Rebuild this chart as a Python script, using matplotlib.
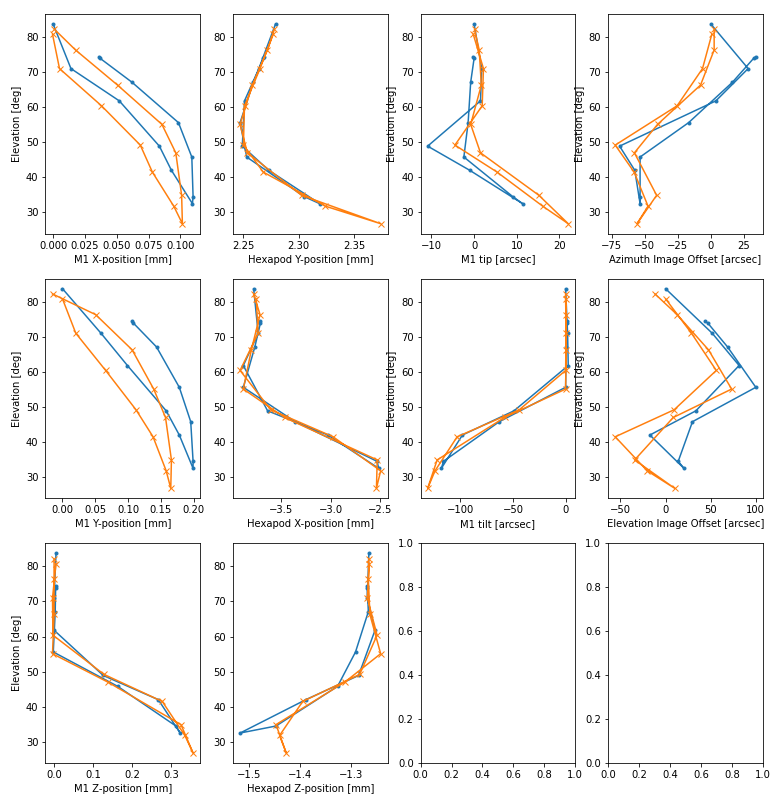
#!/usr/bin/env python3
"""
Elevation scan: M1 / hexapod positions and image offsets vs. elevation.
Two sweeps (blue dots, orange crosses) drawn on a 3x4 grid.
"""

import matplotlib
matplotlib.use("Agg")
import matplotlib.pyplot as plt

# Elevation of each sample [deg], in the order the sweeps were taken
elev_a = [74.4, 73.9, 67.1, 55.6, 45.8, 34.5, 32.5, 42.0, 48.9, 61.8, 71.0, 83.7]
elev_b = [82.2, 76.3, 66.3, 55.1, 47.0, 34.9, 26.8, 31.8, 41.5, 49.2, 60.4, 71.0, 80.8]

# Sweep A (blue)
m1x_a = [0.036, 0.037, 0.062, 0.0985, 0.109, 0.110, 0.1095, 0.093, 0.0835, 0.052, 0.014, 0.000]
hexy_a = [2.2687, 2.268, 2.259, 2.247, 2.253, 2.305, 2.319, 2.273, 2.249, 2.251, 2.264, 2.279]
tip_a = [-0.3, 0.0, -0.8, -1.4, -2.4, 9.1, 11.4, -1.0, -10.9, 1.5, 1.8, 0.0]
az_a = [34.0, 32.3, 16.3, -16.8, -53.5, -53.5, -53.5, -57.5, -69.0, 3.8, 28.2, 0.0]
m1y_a = [0.1063, 0.108, 0.1433, 0.178, 0.1954, 0.199, 0.199, 0.178, 0.158, 0.099, 0.0587, 0.0]
hexx_a = [-3.713, -3.713, -3.77, -3.887, -3.36, -2.526, -2.51, -3.026, -3.64, -3.887, -3.736, -3.782]
tilt_a = [1.2, 1.2, 0.6, 0.0, -63.0, -116.0, -118.0, -98.0, -49.0, 2.5, 1.9, 0.0]
elo_a = [43.8, 46.8, 68.7, 100.0, 29.8, 14.0, 20.4, -17.4, 33.6, 81.5, 51.7, 0.0]
m1z_a = [0.004, 0.004, 0.003, -0.002, 0.163, 0.312, 0.323, 0.267, 0.126, 0.0, 0.0, 0.005]
hexz_a = [-1.2695, -1.269, -1.267, -1.292, -1.327, -1.447, -1.517, -1.389, -1.286, -1.254, -1.269, -1.266]

# Sweep B (orange)
m1x_b = [0.001, 0.0176, 0.0506, 0.0855, 0.0964, 0.101, 0.1016, 0.0948, 0.078, 0.0685, 0.038, 0.005, -0.0005]
hexy_b = [2.278, 2.2717, 2.258, 2.247, 2.2536, 2.3025, 2.374, 2.324, 2.268, 2.250, 2.251, 2.265, 2.277]
tip_b = [0.1, 1.2, 1.7, -0.8, 1.5, 15.2, 22.1, 16.1, 5.4, -4.5, 1.9, 2.2, -0.2]
az_b = [2.5, 2.5, -7.8, -40.3, -57.8, -41.0, -55.8, -47.5, -58.0, -72.3, -25.5, -6.3, 0.75]
m1y_b = [-0.0152, 0.0506, 0.106, 0.139, 0.157, 0.166, 0.165, 0.158, 0.138, 0.112, 0.0658, 0.0203, 0.0]
hexx_b = [-3.782, -3.717, -3.805, -3.887, -3.468, -2.525, -2.533, -2.49, -2.974, -3.608, -3.92, -3.736, -3.756]
tilt_b = [0.0, 0.5, 0.5, 0.0, -58.0, -122.0, -131.0, -124.0, -103.0, -44.0, 0.0, 0.5, 0.0]
elo_b = [-11.7, 12.8, 47.5, 73.2, 8.5, -34.3, 10.2, -20.4, -55.8, 9.5, 56.2, 28.7, 0.0]
m1z_b = [0.0, 0.0, 0.0, -0.004, 0.138, 0.325, 0.356, 0.335, 0.277, 0.128, -0.003, -0.004, 0.005]
hexz_b = [-1.266, -1.267, -1.264, -1.243, -1.313, -1.447, -1.427, -1.44, -1.395, -1.284, -1.25, -1.269, -1.265]

# (x label, sweep A, sweep B, show y label) for the panels in row-major order
panels = [
    ("M1 X-position [mm]", m1x_a, m1x_b, True),
    ("Hexapod Y-position [mm]", hexy_a, hexy_b, False),
    ("M1 tip [arcsec]", tip_a, tip_b, True),
    ("Azimuth Image Offset [arcsec]", az_a, az_b, True),
    ("M1 Y-position [mm]", m1y_a, m1y_b, True),
    ("Hexapod X-position [mm]", hexx_a, hexx_b, False),
    ("M1 tilt [arcsec]", tilt_a, tilt_b, True),
    ("Elevation Image Offset [arcsec]", elo_a, elo_b, True),
    ("M1 Z-position [mm]", m1z_a, m1z_b, True),
    ("Hexapod Z-position [mm]", hexz_a, hexz_b, False),
]


def main():
    fig, axs = plt.subplots(3, 4, figsize=(780 / 72, 802 / 72), dpi=72)
    fig.subplots_adjust(left=0.0583, right=0.978, top=0.9825, bottom=0.0486,
                        wspace=0.213, hspace=0.205)

    for ax, (xlabel, xa, xb, ylab) in zip(axs.flat, panels):
        ax.plot(xa, elev_a, '.-', color='tab:blue')
        ax.plot(xb, elev_b, 'x-', color='tab:orange')
        ax.set_xlabel(xlabel)
        if ylab:
            ax.set_ylabel('Elevation [deg]')

    fig.savefig('out.png', dpi=72)


if __name__ == '__main__':
    main()
